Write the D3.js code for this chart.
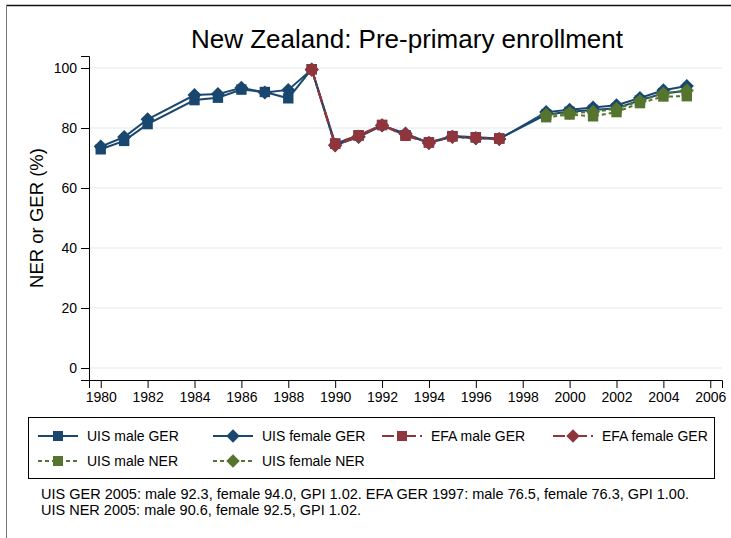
<!DOCTYPE html>
<html>
<head>
<meta charset="utf-8">
<script src="https://cdn.jsdelivr.net/npm/d3@7"></script>
<style>
  body { margin: 0; background: #fff; }
  text { font-family: "Liberation Sans", Arial, sans-serif; fill: #000; }
</style>
</head>
<body>
<svg id="chart" width="731" height="538"></svg>
<script>
// values
var uisYears = [1980,1981,1982,1984,1985,1986,1987,1988,1989,1990,1991,1992,1993,1994,1995,1996,1997,1999,2000,2001,2002,2003,2004,2005];
var uisMaleGER = [72.9,75.7,81.3,89.3,90.1,92.8,92.0,89.9,99.6,74.8,77.5,81.0,77.6,75.2,77.3,76.9,76.5,84.5,85.4,86.0,86.6,89.2,91.6,92.3];
var uisFemaleGER = [73.8,77.0,82.9,91.0,91.3,93.4,91.8,92.7,99.5,74.3,77.0,80.8,78.2,75.0,77.1,76.6,76.3,85.3,86.1,86.8,87.6,90.0,92.6,94.0];

var efaYears = [1989,1990,1991,1992,1993,1994,1995,1996,1997];
var efaMaleGER = [99.6,74.8,77.6,81.0,77.4,75.2,77.2,76.9,76.5];
var efaFemaleGER = [99.4,74.2,77.2,80.9,78.0,75.0,77.0,76.6,76.3];

var nerYears = [1999,2000,2001,2002,2003,2004,2005];
var nerMale = [83.6,84.5,83.9,85.3,88.3,90.5,90.6];
var nerFemale = [84.4,85.0,85.4,86.4,89.0,91.5,92.5];

var xTicks = d3.range(1980, 2007, 2);
var yTicks = [0, 20, 40, 60, 80, 100];

var titleText = "New Zealand: Pre-primary enrollment";
var yLabel = "NER or GER (%)";
var noteLines = [
  "UIS GER 2005: male 92.3, female 94.0, GPI 1.02. EFA GER 1997: male 76.5, female 76.3, GPI 1.00.",
  "UIS NER 2005: male 90.6, female 92.5, GPI 1.02."
];

var navy = "#1a476f", maroon = "#90353b", green = "#55752f";

var series = [
  {name: "UIS male GER",   years: uisYears, vals: uisMaleGER,   color: navy,   shape: "square",  dash: null},
  {name: "UIS female GER", years: uisYears, vals: uisFemaleGER, color: navy,   shape: "diamond", dash: null},
  {name: "EFA male GER",   years: efaYears, vals: efaMaleGER,   color: maroon, shape: "square",  dash: "12,4,2,4"},
  {name: "EFA female GER", years: efaYears, vals: efaFemaleGER, color: maroon, shape: "diamond", dash: "12,4,2,4"},
  {name: "UIS male NER",   years: nerYears, vals: nerMale,      color: green,  shape: "square",  dash: "4,3"},
  {name: "UIS female NER", years: nerYears, vals: nerFemale,    color: green,  shape: "diamond", dash: "4,3"}
];

var svg = d3.select("#chart");

// outer frame (picture is cropped on right and bottom)
svg.append("line").attr("x1", 6).attr("x2", 731).attr("y1", 5.5).attr("y2", 5.5)
  .attr("stroke", "#111").attr("stroke-width", 1.5);
svg.append("line").attr("x1", 6.5).attr("x2", 6.5).attr("y1", 5).attr("y2", 538)
  .attr("stroke", "#777").attr("stroke-width", 1);

var xScale = d3.scaleLinear().domain([1979.5, 2006.5]).range([89, 722]);
var yScale = d3.scaleLinear().domain([-4, 104]).range([380, 56]);

// grid
svg.append("g").selectAll("line").data(yTicks).enter().append("line")
  .attr("x1", 90).attr("x2", 722)
  .attr("y1", function(d){ return yScale(d); })
  .attr("y2", function(d){ return yScale(d); })
  .attr("stroke", "#eaf2f3").attr("stroke-width", 1.5);

// axes
var yAxis = svg.append("g").attr("transform", "translate(89,0)")
  .call(d3.axisLeft(yScale).tickValues(yTicks).tickSize(8).tickPadding(4));
var xAxis = svg.append("g").attr("transform", "translate(0,380)")
  .call(d3.axisBottom(xScale).tickValues(xTicks).tickFormat(d3.format("d")).tickSize(8).tickPadding(4));

[yAxis, xAxis].forEach(function(ax){
  ax.select(".domain").attr("stroke", "#000");
  ax.selectAll(".tick line").attr("stroke", "#000");
  ax.selectAll(".tick text").style("font-size", "14px").attr("fill", "#000")
    .style("font-family", "'Liberation Sans', Arial, sans-serif");
});

function markerPath(shape, s) {
  if (shape == "square") {
    return "M" + (-s) + "," + (-s) + "H" + s + "V" + s + "H" + (-s) + "Z";
  }
  var d = s * 1.35;
  return "M0," + (-d) + "L" + d + ",0L0," + d + "L" + (-d) + ",0Z";
}

var line = d3.line()
  .x(function(d){ return xScale(d[0]); })
  .y(function(d){ return yScale(d[1]); });

series.forEach(function(s){
  var pts = s.years.map(function(y, i){ return [y, s.vals[i]]; });
  var g = svg.append("g");
  g.append("path").datum(pts)
    .attr("d", line)
    .attr("fill", "none")
    .attr("stroke", s.color)
    .attr("stroke-width", 2)
    .attr("stroke-dasharray", s.dash);
  g.selectAll("path.mk").data(pts).enter().append("path")
    .attr("class", "mk")
    .attr("transform", function(d){ return "translate(" + xScale(d[0]) + "," + yScale(d[1]) + ")"; })
    .attr("d", markerPath(s.shape, 5.2))
    .attr("fill", s.color);
});

// title
svg.append("text")
  .attr("x", 407).attr("y", 48)
  .attr("text-anchor", "middle")
  .style("font-size", "26px")
  .text(titleText);

// y label
svg.append("text")
  .attr("transform", "translate(43,218) rotate(-90)")
  .attr("text-anchor", "middle")
  .style("font-size", "18.5px")
  .text(yLabel);

// legend
var legend = svg.append("g");
legend.append("rect")
  .attr("x", 28.5).attr("y", 417.5).attr("width", 686).attr("height", 61)
  .attr("fill", "#fff").attr("stroke", "#000").attr("stroke-width", 1);

var legX = [38, 213, 382, 553];
var legY = [436, 461];

series.forEach(function(s, i){
  var lx = legX[i % 4], ly = legY[Math.floor(i / 4)];
  var item = legend.append("g").attr("transform", "translate(" + lx + "," + ly + ")");
  item.append("line")
    .attr("x1", 0).attr("x2", 40).attr("y1", 0).attr("y2", 0)
    .attr("stroke", s.color).attr("stroke-width", 2)
    .attr("stroke-dasharray", s.dash);
  item.append("path")
    .attr("transform", "translate(20,0)")
    .attr("d", markerPath(s.shape, 5))
    .attr("fill", s.color);
  item.append("text")
    .attr("x", 49).attr("y", 5)
    .style("font-size", "14px")
    .text(s.name);
});

// note
svg.append("g").selectAll("text").data(noteLines).enter().append("text")
  .attr("x", 41)
  .attr("y", function(d, i){ return 499 + i * 16; })
  .style("font-size", "14.5px")
  .text(function(d){ return d; });
</script>
</body>
</html>
